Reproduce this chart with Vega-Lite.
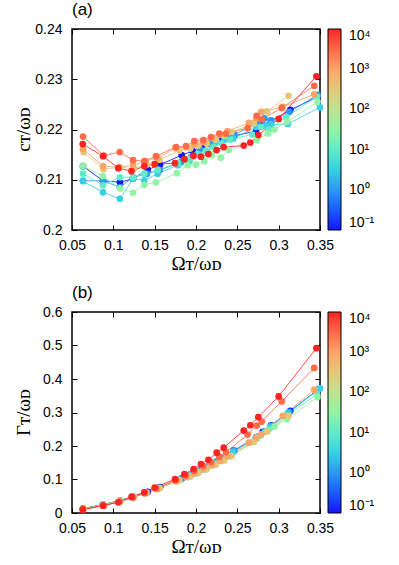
{
"$schema": "https://vega.github.io/schema/vega-lite/v6.json",
"padding": {"left": 13, "top": 0, "right": 5, "bottom": 0},
"config": {
  "font": "Liberation Sans",
  "view": {"stroke": "black", "strokeWidth": 1.5},
  "axis": {"domain": false, "grid": false, "labelFlush": false, "tickColor": "black", "tickSize": -5, "labelFont": "Liberation Sans", "labelFontSize": 14, "labelColor": "black", "titleFont": "Liberation Serif", "titleFontSize": 19, "titleFontWeight": "normal", "titleColor": "black", "format": "~g"},
  "title": {"font": "Liberation Sans", "fontSize": 17, "fontWeight": "normal", "anchor": "start", "frame": "group", "offset": 3, "color": "black"},
  "legend": {"labelFont": "Liberation Sans", "labelFontSize": 14, "labelColor": "black"}
},
"datasets": {
"a": [
{"v":0.1,"x":0.0633,"y":0.2127},{"v":0.1,"x":0.0875,"y":0.2098},{"v":0.1,"x":0.108,"y":0.2095},{"v":0.1,"x":0.1238,"y":0.2102},{"v":0.1,"x":0.1415,"y":0.212},{"v":0.1,"x":0.1565,"y":0.213},{"v":0.1,"x":0.1827,"y":0.2149},{"v":0.1,"x":0.196,"y":0.2157},{"v":0.1,"x":0.2073,"y":0.2165},{"v":0.1,"x":0.2181,"y":0.2173},{"v":0.1,"x":0.2282,"y":0.2179},{"v":0.1,"x":0.2383,"y":0.2182},{"v":0.1,"x":0.2456,"y":0.2187},{"v":0.1,"x":0.2726,"y":0.2197},{"v":0.1,"x":0.2806,"y":0.2209},{"v":0.1,"x":0.2907,"y":0.2217},{"v":0.1,"x":0.3141,"y":0.2239},{"v":0.1,"x":0.3472,"y":0.2265},
{"v":1,"x":0.0633,"y":0.2098},{"v":1,"x":0.0875,"y":0.2098},{"v":1,"x":0.108,"y":0.2085},{"v":1,"x":0.1238,"y":0.2105},{"v":1,"x":0.1407,"y":0.2112},{"v":1,"x":0.156,"y":0.2119},{"v":1,"x":0.1819,"y":0.2135},{"v":1,"x":0.194,"y":0.2145},{"v":1,"x":0.2048,"y":0.2161},{"v":1,"x":0.2161,"y":0.2171},{"v":1,"x":0.225,"y":0.2177},{"v":1,"x":0.2363,"y":0.2183},{"v":1,"x":0.2464,"y":0.219},{"v":1,"x":0.2746,"y":0.2212},{"v":1,"x":0.2827,"y":0.2222},{"v":1,"x":0.2907,"y":0.2218},{"v":1,"x":0.3129,"y":0.2235},{"v":1,"x":0.3472,"y":0.2269},
{"v":3.16,"x":0.0633,"y":0.2097},{"v":3.16,"x":0.0875,"y":0.2075},{"v":3.16,"x":0.108,"y":0.2062},{"v":3.16,"x":0.1238,"y":0.2102},{"v":3.16,"x":0.1375,"y":0.2099},{"v":3.16,"x":0.1536,"y":0.2112},{"v":3.16,"x":0.178,"y":0.2129},{"v":3.16,"x":0.192,"y":0.2137},{"v":3.16,"x":0.2032,"y":0.215},{"v":3.16,"x":0.214,"y":0.2155},{"v":3.16,"x":0.2234,"y":0.2175},{"v":3.16,"x":0.2343,"y":0.2179},{"v":3.16,"x":0.245,"y":0.2182},{"v":3.16,"x":0.2726,"y":0.2205},{"v":3.16,"x":0.2835,"y":0.2208},{"v":3.16,"x":0.2907,"y":0.221},{"v":3.16,"x":0.311,"y":0.2211},{"v":3.16,"x":0.35,"y":0.2244},
{"v":10,"x":0.0633,"y":0.2112},{"v":10,"x":0.0875,"y":0.2089},{"v":10,"x":0.108,"y":0.2105},{"v":10,"x":0.1238,"y":0.2105},{"v":10,"x":0.1375,"y":0.2112},{"v":10,"x":0.1536,"y":0.212},{"v":10,"x":0.178,"y":0.2133},{"v":10,"x":0.193,"y":0.2142},{"v":10,"x":0.202,"y":0.2151},{"v":10,"x":0.212,"y":0.2158},{"v":10,"x":0.221,"y":0.2165},{"v":10,"x":0.231,"y":0.2172},{"v":10,"x":0.241,"y":0.218},{"v":10,"x":0.268,"y":0.219},{"v":10,"x":0.2786,"y":0.2205},{"v":10,"x":0.288,"y":0.22},{"v":10,"x":0.309,"y":0.2225},{"v":10,"x":0.3464,"y":0.2265},
{"v":31.6,"x":0.0633,"y":0.2127},{"v":31.6,"x":0.0875,"y":0.2107},{"v":31.6,"x":0.108,"y":0.2083},{"v":31.6,"x":0.1238,"y":0.2074},{"v":31.6,"x":0.1375,"y":0.209},{"v":31.6,"x":0.1516,"y":0.2095},{"v":31.6,"x":0.177,"y":0.2113},{"v":31.6,"x":0.19,"y":0.2129},{"v":31.6,"x":0.2,"y":0.213},{"v":31.6,"x":0.21,"y":0.2137},{"v":31.6,"x":0.219,"y":0.2149},{"v":31.6,"x":0.23,"y":0.2144},{"v":31.6,"x":0.2395,"y":0.2159},{"v":31.6,"x":0.2738,"y":0.2179},{"v":31.6,"x":0.2867,"y":0.2192},{"v":31.6,"x":0.295,"y":0.22},{"v":31.6,"x":0.31,"y":0.2215},{"v":31.6,"x":0.347,"y":0.2255},
{"v":316,"x":0.064,"y":0.2155},{"v":316,"x":0.088,"y":0.2121},{"v":316,"x":0.108,"y":0.2125},{"v":316,"x":0.125,"y":0.2122},{"v":316,"x":0.14,"y":0.213},{"v":316,"x":0.156,"y":0.214},{"v":316,"x":0.18,"y":0.2158},{"v":316,"x":0.193,"y":0.2162},{"v":316,"x":0.203,"y":0.2168},{"v":316,"x":0.213,"y":0.2172},{"v":316,"x":0.224,"y":0.218},{"v":316,"x":0.234,"y":0.2188},{"v":316,"x":0.243,"y":0.2195},{"v":316,"x":0.27,"y":0.2212},{"v":316,"x":0.2859,"y":0.2236},{"v":316,"x":0.312,"y":0.2267},
{"v":1000,"x":0.0633,"y":0.2161},{"v":1000,"x":0.0875,"y":0.2127},{"v":1000,"x":0.107,"y":0.2125},{"v":1000,"x":0.1238,"y":0.2129},{"v":1000,"x":0.139,"y":0.2137},{"v":1000,"x":0.153,"y":0.2143},{"v":1000,"x":0.175,"y":0.2163},{"v":1000,"x":0.188,"y":0.2165},{"v":1000,"x":0.198,"y":0.217},{"v":1000,"x":0.209,"y":0.2175},{"v":1000,"x":0.219,"y":0.2183},{"v":1000,"x":0.229,"y":0.219},{"v":1000,"x":0.238,"y":0.2197},{"v":1000,"x":0.264,"y":0.2213},{"v":1000,"x":0.273,"y":0.2222},{"v":1000,"x":0.279,"y":0.2235},{"v":1000,"x":0.305,"y":0.2245},{"v":1000,"x":0.343,"y":0.227},
{"v":3162,"x":0.0633,"y":0.2186},{"v":3162,"x":0.0885,"y":0.2148},{"v":3162,"x":0.1077,"y":0.2155},{"v":3162,"x":0.1238,"y":0.2139},{"v":3162,"x":0.1375,"y":0.2137},{"v":3162,"x":0.1516,"y":0.2147},{"v":3162,"x":0.1758,"y":0.2165},{"v":3162,"x":0.1879,"y":0.2167},{"v":3162,"x":0.198,"y":0.2177},{"v":3162,"x":0.2089,"y":0.2179},{"v":3162,"x":0.2181,"y":0.2185},{"v":3162,"x":0.2282,"y":0.2192},{"v":3162,"x":0.2363,"y":0.2192},{"v":3162,"x":0.2625,"y":0.2203},{"v":3162,"x":0.2734,"y":0.2227},{"v":3162,"x":0.2795,"y":0.222},{"v":3162,"x":0.3037,"y":0.2243},{"v":3162,"x":0.3431,"y":0.2287},
{"v":10000,"x":0.063,"y":0.2171},{"v":10000,"x":0.0875,"y":0.2147},{"v":10000,"x":0.106,"y":0.2123},{"v":10000,"x":0.122,"y":0.2117},{"v":10000,"x":0.1375,"y":0.2127},{"v":10000,"x":0.15,"y":0.2131},{"v":10000,"x":0.1746,"y":0.2133},{"v":10000,"x":0.186,"y":0.2141},{"v":10000,"x":0.197,"y":0.2148},{"v":10000,"x":0.206,"y":0.2146},{"v":10000,"x":0.215,"y":0.2151},{"v":10000,"x":0.225,"y":0.2159},{"v":10000,"x":0.2335,"y":0.2165},{"v":10000,"x":0.2577,"y":0.2168},{"v":10000,"x":0.2657,"y":0.2174},{"v":10000,"x":0.2754,"y":0.2189},{"v":10000,"x":0.3,"y":0.2221},{"v":10000,"x":0.3456,"y":0.2306}
],
"b": [
{"v":0.1,"x":0.0633,"y":0.013},{"v":0.1,"x":0.0875,"y":0.025},{"v":0.1,"x":0.108,"y":0.037},{"v":0.1,"x":0.1238,"y":0.049},{"v":0.1,"x":0.1415,"y":0.063},{"v":0.1,"x":0.1565,"y":0.077},{"v":0.1,"x":0.1827,"y":0.103},{"v":0.1,"x":0.196,"y":0.117},{"v":0.1,"x":0.2073,"y":0.13},{"v":0.1,"x":0.2181,"y":0.144},{"v":0.1,"x":0.2282,"y":0.157},{"v":0.1,"x":0.2383,"y":0.172},{"v":0.1,"x":0.2456,"y":0.186},{"v":0.1,"x":0.2726,"y":0.226},{"v":0.1,"x":0.2806,"y":0.242},{"v":0.1,"x":0.2907,"y":0.262},{"v":0.1,"x":0.3141,"y":0.305},{"v":0.1,"x":0.3472,"y":0.367},
{"v":1,"x":0.0633,"y":0.013},{"v":1,"x":0.0875,"y":0.025},{"v":1,"x":0.108,"y":0.037},{"v":1,"x":0.1238,"y":0.049},{"v":1,"x":0.1407,"y":0.062},{"v":1,"x":0.156,"y":0.076},{"v":1,"x":0.1819,"y":0.102},{"v":1,"x":0.194,"y":0.115},{"v":1,"x":0.2048,"y":0.128},{"v":1,"x":0.2161,"y":0.142},{"v":1,"x":0.225,"y":0.154},{"v":1,"x":0.2363,"y":0.17},{"v":1,"x":0.2464,"y":0.186},{"v":1,"x":0.2746,"y":0.228},{"v":1,"x":0.2827,"y":0.243},{"v":1,"x":0.2907,"y":0.26},{"v":1,"x":0.3129,"y":0.302},{"v":1,"x":0.3472,"y":0.368},
{"v":3.16,"x":0.0633,"y":0.012},{"v":3.16,"x":0.0875,"y":0.024},{"v":3.16,"x":0.108,"y":0.036},{"v":3.16,"x":0.1238,"y":0.048},{"v":3.16,"x":0.1375,"y":0.06},{"v":3.16,"x":0.1536,"y":0.074},{"v":3.16,"x":0.178,"y":0.098},{"v":3.16,"x":0.192,"y":0.112},{"v":3.16,"x":0.2032,"y":0.124},{"v":3.16,"x":0.214,"y":0.137},{"v":3.16,"x":0.2234,"y":0.15},{"v":3.16,"x":0.2343,"y":0.165},{"v":3.16,"x":0.245,"y":0.183},{"v":3.16,"x":0.2726,"y":0.226},{"v":3.16,"x":0.2835,"y":0.243},{"v":3.16,"x":0.2907,"y":0.258},{"v":3.16,"x":0.311,"y":0.298},{"v":3.16,"x":0.35,"y":0.372},
{"v":10,"x":0.0633,"y":0.012},{"v":10,"x":0.0875,"y":0.024},{"v":10,"x":0.108,"y":0.036},{"v":10,"x":0.1238,"y":0.047},{"v":10,"x":0.1375,"y":0.06},{"v":10,"x":0.1536,"y":0.073},{"v":10,"x":0.178,"y":0.096},{"v":10,"x":0.193,"y":0.11},{"v":10,"x":0.202,"y":0.12},{"v":10,"x":0.212,"y":0.131},{"v":10,"x":0.221,"y":0.143},{"v":10,"x":0.231,"y":0.156},{"v":10,"x":0.241,"y":0.17},{"v":10,"x":0.268,"y":0.212},{"v":10,"x":0.2786,"y":0.232},{"v":10,"x":0.288,"y":0.25},{"v":10,"x":0.309,"y":0.29},{"v":10,"x":0.3464,"y":0.355},
{"v":31.6,"x":0.0633,"y":0.011},{"v":31.6,"x":0.0875,"y":0.023},{"v":31.6,"x":0.108,"y":0.035},{"v":31.6,"x":0.1238,"y":0.046},{"v":31.6,"x":0.1375,"y":0.058},{"v":31.6,"x":0.1516,"y":0.071},{"v":31.6,"x":0.177,"y":0.095},{"v":31.6,"x":0.19,"y":0.107},{"v":31.6,"x":0.2,"y":0.118},{"v":31.6,"x":0.21,"y":0.129},{"v":31.6,"x":0.219,"y":0.141},{"v":31.6,"x":0.23,"y":0.155},{"v":31.6,"x":0.2395,"y":0.168},{"v":31.6,"x":0.2738,"y":0.222},{"v":31.6,"x":0.2867,"y":0.245},{"v":31.6,"x":0.295,"y":0.258},{"v":31.6,"x":0.31,"y":0.28},{"v":31.6,"x":0.347,"y":0.346},
{"v":316,"x":0.064,"y":0.012},{"v":316,"x":0.088,"y":0.024},{"v":316,"x":0.108,"y":0.036},{"v":316,"x":0.125,"y":0.048},{"v":316,"x":0.14,"y":0.06},{"v":316,"x":0.156,"y":0.074},{"v":316,"x":0.18,"y":0.098},{"v":316,"x":0.193,"y":0.109},{"v":316,"x":0.203,"y":0.12},{"v":316,"x":0.213,"y":0.131},{"v":316,"x":0.224,"y":0.144},{"v":316,"x":0.234,"y":0.157},{"v":316,"x":0.243,"y":0.17},{"v":316,"x":0.27,"y":0.212},{"v":316,"x":0.2859,"y":0.243},{"v":316,"x":0.312,"y":0.29},
{"v":1000,"x":0.0633,"y":0.011},{"v":1000,"x":0.0875,"y":0.023},{"v":1000,"x":0.107,"y":0.035},{"v":1000,"x":0.1238,"y":0.047},{"v":1000,"x":0.139,"y":0.059},{"v":1000,"x":0.153,"y":0.072},{"v":1000,"x":0.175,"y":0.095},{"v":1000,"x":0.188,"y":0.108},{"v":1000,"x":0.198,"y":0.119},{"v":1000,"x":0.209,"y":0.131},{"v":1000,"x":0.219,"y":0.143},{"v":1000,"x":0.229,"y":0.156},{"v":1000,"x":0.238,"y":0.17},{"v":1000,"x":0.264,"y":0.21},{"v":1000,"x":0.273,"y":0.225},{"v":1000,"x":0.279,"y":0.235},{"v":1000,"x":0.305,"y":0.29},{"v":1000,"x":0.343,"y":0.368},
{"v":3162,"x":0.0633,"y":0.011},{"v":3162,"x":0.0885,"y":0.022},{"v":3162,"x":0.1077,"y":0.034},{"v":3162,"x":0.1238,"y":0.046},{"v":3162,"x":0.1375,"y":0.06},{"v":3162,"x":0.1516,"y":0.074},{"v":3162,"x":0.1758,"y":0.098},{"v":3162,"x":0.1879,"y":0.112},{"v":3162,"x":0.198,"y":0.126},{"v":3162,"x":0.2089,"y":0.14},{"v":3162,"x":0.2181,"y":0.152},{"v":3162,"x":0.2282,"y":0.168},{"v":3162,"x":0.2363,"y":0.182},{"v":3162,"x":0.2625,"y":0.234},{"v":3162,"x":0.2734,"y":0.261},{"v":3162,"x":0.2795,"y":0.273},{"v":3162,"x":0.3037,"y":0.333},{"v":3162,"x":0.3431,"y":0.433},
{"v":10000,"x":0.063,"y":0.01},{"v":10000,"x":0.0875,"y":0.022},{"v":10000,"x":0.106,"y":0.032},{"v":10000,"x":0.122,"y":0.048},{"v":10000,"x":0.1375,"y":0.062},{"v":10000,"x":0.15,"y":0.076},{"v":10000,"x":0.1746,"y":0.101},{"v":10000,"x":0.186,"y":0.116},{"v":10000,"x":0.197,"y":0.131},{"v":10000,"x":0.206,"y":0.146},{"v":10000,"x":0.215,"y":0.159},{"v":10000,"x":0.225,"y":0.18},{"v":10000,"x":0.2335,"y":0.195},{"v":10000,"x":0.2577,"y":0.246},{"v":10000,"x":0.2657,"y":0.262},{"v":10000,"x":0.2754,"y":0.286},{"v":10000,"x":0.3,"y":0.348},{"v":10000,"x":0.3456,"y":0.492}
]
},
"spacing": 9,
"resolve": {"scale": {"color": "independent"}, "legend": {"color": "independent"}},
"vconcat": [
{
  "title": {"text": "(a)"},
  "width": 248, "height": 201,
  "data": {"name": "a"},
  "resolve": {"axis": {"x": "independent", "y": "independent"}, "scale": {"color": "independent"}, "legend": {"color": "independent"}},
  "layer": [
    {
      "mark": {"type": "line", "strokeWidth": 1, "opacity": 0.85},
      "encoding": {
        "x": {"field": "x", "type": "quantitative", "scale": {"domain": [0.05, 0.35], "nice": false, "zero": false},
              "axis": {"orient": "bottom", "values": [0.05,0.1,0.15,0.2,0.25,0.3,0.35], "title": "Ωᴛ/ωᴅ", "labelPadding": 13, "titleBaseline": "alphabetic", "titleY": 39}},
        "y": {"field": "y", "type": "quantitative", "scale": {"domain": [0.2, 0.24], "nice": false, "zero": false},
              "axis": {"orient": "left", "values": [0.2,0.21,0.22,0.23,0.24], "title": "cᴛ/ωᴅ", "labelPadding": 15, "titleBaseline": "middle", "titleX": -49, "titleY": 100}},
        "color": {"field": "v", "type": "quantitative", "legend": null,
          "scale": {"type": "log", "interpolate": "rgb", "domain": [0.1, 10000], "range": ["#1414ff","#1a5cff","#2a98f4","#38d0e4","#60ecc8","#90f4a4","#c0e490","#e4c878","#ffa468","#ff6a48","#ff2424"]}}
      }
    },
    {
      "mark": {"type": "point", "filled": true, "size": 45, "opacity": 1},
      "encoding": {
        "x": {"field": "x", "type": "quantitative", "scale": {"domain": [0.05, 0.35], "nice": false, "zero": false}, "axis": {"orient": "top", "labels": false, "title": null, "values": [0.05,0.1,0.15,0.2,0.25,0.3,0.35]}},
        "y": {"field": "y", "type": "quantitative", "scale": {"domain": [0.2, 0.24], "nice": false, "zero": false}, "axis": {"orient": "right", "labels": false, "title": null, "values": [0.2,0.21,0.22,0.23,0.24]}},
        "color": {"field": "v", "type": "quantitative",
          "scale": {"type": "log", "interpolate": "rgb", "domain": [0.1, 10000], "range": ["#1414ff","#1a5cff","#2a98f4","#38d0e4","#60ecc8","#90f4a4","#c0e490","#e4c878","#ffa468","#ff6a48","#ff2424"]},
          "legend": {"title": null, "values": [0.1,1,10,100,1000,10000], "labelExpr": "'10' + ['⁻¹','⁰','¹','²','³','⁴'][round(log(datum.value)/LN10)+1]", "gradientLength": 201, "gradientThickness": 13, "gradientStrokeColor": "black", "gradientStrokeWidth": 1, "offset": 6, "labelOffset": 8, "labelBaseline": "middle"}}
      }
    }
  ]
},
{
  "title": {"text": "(b)"},
  "width": 248, "height": 201,
  "data": {"name": "b"},
  "resolve": {"axis": {"x": "independent", "y": "independent"}, "scale": {"color": "independent"}, "legend": {"color": "independent"}},
  "layer": [
    {
      "mark": {"type": "line", "strokeWidth": 1, "opacity": 0.85},
      "encoding": {
        "x": {"field": "x", "type": "quantitative", "scale": {"domain": [0.05, 0.35], "nice": false, "zero": false},
              "axis": {"orient": "bottom", "values": [0.05,0.1,0.15,0.2,0.25,0.3,0.35], "title": "Ωᴛ/ωᴅ", "labelPadding": 13, "titleBaseline": "alphabetic", "titleY": 39}},
        "y": {"field": "y", "type": "quantitative", "scale": {"domain": [0, 0.6], "nice": false, "zero": false},
              "axis": {"orient": "left", "values": [0,0.1,0.2,0.3,0.4,0.5,0.6], "title": "Γᴛ/ωᴅ", "labelPadding": 15, "titleBaseline": "middle", "titleX": -49, "titleY": 100}},
        "color": {"field": "v", "type": "quantitative", "legend": null,
          "scale": {"type": "log", "interpolate": "rgb", "domain": [0.1, 10000], "range": ["#1414ff","#1a5cff","#2a98f4","#38d0e4","#60ecc8","#90f4a4","#c0e490","#e4c878","#ffa468","#ff6a48","#ff2424"]}}
      }
    },
    {
      "mark": {"type": "point", "filled": true, "size": 45, "opacity": 1},
      "encoding": {
        "x": {"field": "x", "type": "quantitative", "scale": {"domain": [0.05, 0.35], "nice": false, "zero": false}, "axis": {"orient": "top", "labels": false, "title": null, "values": [0.05,0.1,0.15,0.2,0.25,0.3,0.35]}},
        "y": {"field": "y", "type": "quantitative", "scale": {"domain": [0, 0.6], "nice": false, "zero": false}, "axis": {"orient": "right", "labels": false, "title": null, "values": [0,0.1,0.2,0.3,0.4,0.5,0.6]}},
        "color": {"field": "v", "type": "quantitative",
          "scale": {"type": "log", "interpolate": "rgb", "domain": [0.1, 10000], "range": ["#1414ff","#1a5cff","#2a98f4","#38d0e4","#60ecc8","#90f4a4","#c0e490","#e4c878","#ffa468","#ff6a48","#ff2424"]},
          "legend": {"title": null, "values": [0.1,1,10,100,1000,10000], "labelExpr": "'10' + ['⁻¹','⁰','¹','²','³','⁴'][round(log(datum.value)/LN10)+1]", "gradientLength": 201, "gradientThickness": 13, "gradientStrokeColor": "black", "gradientStrokeWidth": 1, "offset": 6, "labelOffset": 8, "labelBaseline": "middle"}}
      }
    }
  ]
}
]
}
